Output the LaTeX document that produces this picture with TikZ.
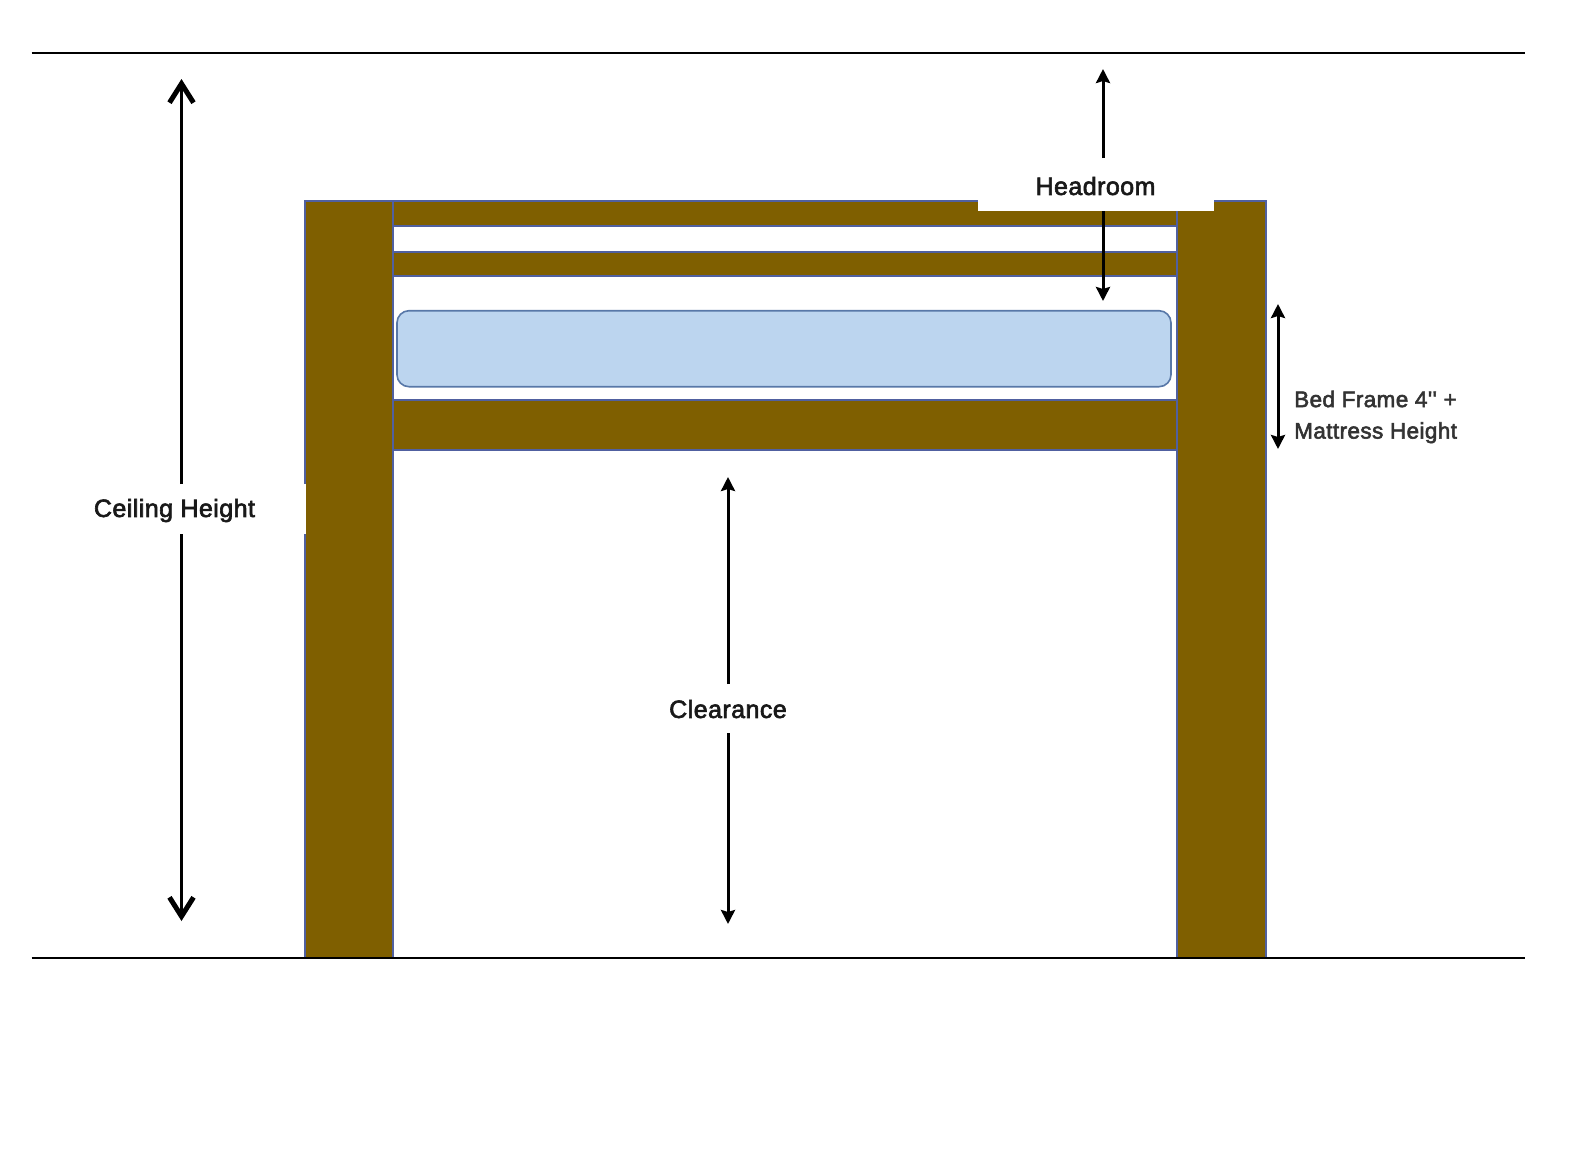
\documentclass[tikz,border=0pt]{standalone}
\usepackage{fontspec}
\setmainfont{Liberation Sans}
\newfontfamily\labfont[FakeBold=2.5,LetterSpace=1.8]{Liberation Sans}
\usetikzlibrary{arrows.meta}
\definecolor{wood}{HTML}{7F5F00}
\definecolor{edgeblue}{HTML}{5060A0}
\definecolor{mat}{HTML}{BCD5EF}
\definecolor{matedge}{HTML}{5878A8}
\tikzset{
  timber/.style={fill=wood,draw=edgeblue,line width=1.7pt},
  levelline/.style={draw=black,line width=2.8pt},
  bigtip/.tip={Straight Barb[length=19pt,width=24pt,line width=5pt]},
  smalltip/.tip={Stealth[length=14pt,width=14pt,inset=2pt]},
  dimbig/.style={draw=black,line width=3pt,-bigtip},
  dimup/.style={draw=black,line width=3pt,-smalltip},
  dimboth/.style={draw=black,line width=3pt,smalltip-smalltip},
  lab/.style={inner sep=0pt,font=\labfont\fontsize{25}{29}\selectfont,text=black!90},
  labsmall/.style={inner sep=0pt,font=\labfont\fontsize{22.5}{31.5}\selectfont,text=black!80,align=left,anchor=west},
}
\begin{document}
\begin{tikzpicture}[x=1pt,y=-1pt]
\useasboundingbox (0,0) rectangle (1588,1152);
\fill[white] (0,0) rectangle (1588,1152);
% beams
\path[timber] (393,200.7) rectangle (1177,226);
\path[timber] (393,251.7) rectangle (1177,275.7);
\path[timber] (393,400) rectangle (1177,450);
% posts
\path[timber] (304.7,200.7) rectangle (393,958);
\path[timber] (1177,200.7) rectangle (1266,958);
% mattress
\path[fill=mat,draw=matedge,line width=1.6pt,rounded corners=12pt] (397,310.7) rectangle (1171,386.7);
% white patches
\fill[white] (978,190) rectangle (1214,211);
\fill[white] (302,484) rectangle (306.2,534);
% level lines
\coordinate (topL) at (31.5,53);
\coordinate (topR) at (1525,53);
\coordinate (botL) at (31.5,958);
\coordinate (botR) at (1525,958);
\draw[levelline] (topL) -- (topR);
\draw[levelline] (botL) -- (botR);
% labels
\node[lab] (ceil) at (174.5,510.5) {Ceiling Height};
\node[lab] (head) at (1095.5,186) {Headroom};
\node[lab] (clear) at (728,709) {Clearance};
\node[labsmall] (bed) at (1294,417) {Bed Frame 4'' +\\Mattress Height};
% dimension points
\coordinate (ceilT) at (181.5,79);
\coordinate (ceilA) at (181.5,484);
\coordinate (ceilB) at (181.5,534);
\coordinate (ceilD) at (181.5,921);
\coordinate (headT) at (1103,69);
\coordinate (headA) at (1103,158);
\coordinate (headB) at (1103,211);
\coordinate (headD) at (1103,301);
\coordinate (clearT) at (728,477);
\coordinate (clearA) at (728,684);
\coordinate (clearB) at (728,733);
\coordinate (clearD) at (728,924);
\coordinate (bedT) at (1278,304);
\coordinate (bedD) at (1278,449);
% dimension arrows
\draw[dimbig] (ceilA) -- (ceilT);
\draw[dimbig] (ceilB) -- (ceilD);
\draw[dimup] (headA) -- (headT);
\draw[dimup] (headB) -- (headD);
\draw[dimup] (clearA) -- (clearT);
\draw[dimup] (clearB) -- (clearD);
\draw[dimboth] (bedT) -- (bedD);
\end{tikzpicture}
\end{document}
